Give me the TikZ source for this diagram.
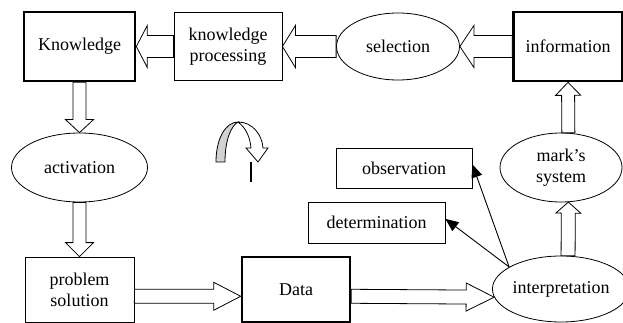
\documentclass[tikz,border=0pt]{standalone}
\usepackage{fontspec}
\setmainfont{Liberation Serif}
\usetikzlibrary{arrows.meta,calc,shapes.geometric}

\begin{document}
\begin{tikzpicture}[x=1pt,y=-1pt,
	box/.style={rectangle,draw,line width=0.8pt,inner sep=0pt,align=center,font=\fontsize{18}{21}\selectfont},
	main box/.style={box,line width=2.6pt},
	oval/.style={ellipse,draw,line width=0.8pt,inner sep=0pt,align=center,font=\fontsize{18}{21}\selectfont},
	fat/.style n args={3}{draw,fill=white,line width=0.8pt,line join=miter,to path={
		($(\tikztostart)!#1!90:(\tikztotarget)$)
		-- ($(\tikztotarget)!#3!(\tikztostart)!#1!90:(\tikztotarget)$)
		-- ($(\tikztotarget)!#3!(\tikztostart)!#2!90:(\tikztotarget)$)
		-- (\tikztotarget)
		-- ($(\tikztotarget)!#3!(\tikztostart)!#2!-90:(\tikztotarget)$)
		-- ($(\tikztotarget)!#3!(\tikztostart)!#1!-90:(\tikztotarget)$)
		-- ($(\tikztostart)!#1!-90:(\tikztotarget)$) -- cycle}},
	thin arrow/.style={draw,line width=0.9pt,-{Triangle[length=13pt,width=11pt]}}]
	\useasboundingbox (0,0) rectangle (623,323);
	\node[main box,minimum width=111pt,minimum height=69pt] (know) at (79.5,46.5) {Knowledge};
	\node[box,minimum width=108pt,minimum height=68pt] (kproc) at (228,46.5) {knowledge\\processing};
	\node[oval,minimum width=123pt,minimum height=67pt] (sel) at (398,46.5) {selection};
	\node[main box,minimum width=109pt,minimum height=69pt] (info) at (568,46.5) {information};
	\node[oval,minimum width=136pt,minimum height=69pt] (act) at (79.5,167.5) {activation};
	\node[oval,minimum width=122pt,minimum height=69pt] (mark) at (561,167.5) {mark’s\\system};
	\node[box,minimum width=136pt,minimum height=40pt] (obs) at (404,168) {observation};
	\node[box,minimum width=137pt,minimum height=41pt] (det) at (376.5,222.5) {determination};
	\node[box,minimum width=109pt,minimum height=65pt] (ps) at (79.5,289.5) {problem\\solution};
	\node[main box,minimum width=108pt,minimum height=65pt] (data) at (296,289.5) {Data};
	\node[oval,minimum width=122pt,minimum height=66pt] (interp) at (561,289) {interpretation};
	\path
	(kproc.west) edge[fat={11pt}{21pt}{11pt}] (know.east);
	\path
	(sel.west) edge[fat={11pt}{21pt}{13pt}] (kproc.east);
	\path
	(info.west) edge[fat={11pt}{21pt}{14pt}] (sel.east);
	\path
	(know.south) edge[fat={6.5pt}{14pt}{13pt}] (act.north);
	\path
	(act.south) edge[fat={6.5pt}{14pt}{14pt}] (ps.north);
	\path
	(ps.-7) edge[fat={7pt}{14pt}{27pt}] (data.187);
	\path
	(data.-7) edge[fat={7pt}{14pt}{28pt}] (interp.187);
	\path
	(interp.78) edge[fat={7pt}{12.5pt}{11pt}] (mark.-78);
	\path
	(mark.78) edge[fat={6.5pt}{12.5pt}{13pt}] (info.south);
	\path
	(interp.157) edge[thin arrow] (obs.3);
	\path
	(interp.157) edge[thin arrow] (det.3);

	\draw[line width=0.8pt,fill=gray!35] (216,162) .. controls (216,138) and (226,122) .. (238,122)
		.. controls (231,126) and (225,140) .. (225,162) -- cycle;
	\draw[line width=0.8pt,fill=white,line join=miter] (238,122) .. controls (252,122) and (262,134) .. (263,148)
		-- (268,148) -- (258,162) -- (246,148) -- (251,148) .. controls (250,137) and (246,128) .. (238,122);
	\draw[line width=2pt] (250.7,162) -- (250.7,182);
\end{tikzpicture}
\end{document}
